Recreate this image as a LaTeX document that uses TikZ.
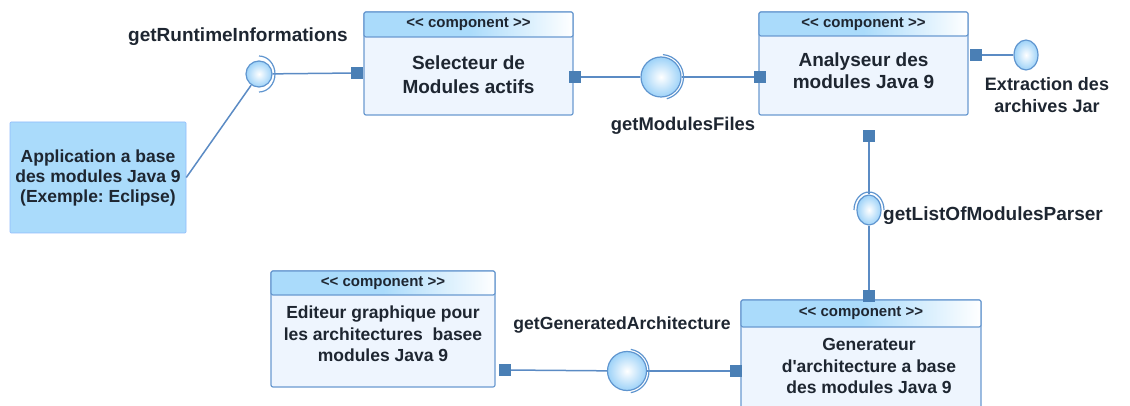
\documentclass[tikz,border=0pt]{standalone}
\usepackage{fontspec}
\setmainfont{Liberation Sans}
\usetikzlibrary{shapes.geometric}
\frenchspacing
\definecolor{hdrc}{HTML}{AADBFB}
\definecolor{bodyc}{HTML}{EEF5FE}
\definecolor{edgec}{HTML}{6A9AD0}
\definecolor{portc}{HTML}{4A7FB5}
\definecolor{wirec}{HTML}{5B8BC4}
\definecolor{ballc}{HTML}{9DD2F8}
\definecolor{balledge}{HTML}{5F95CF}
\definecolor{inkc}{HTML}{1E2631}
\tikzset{
  wire/.style={draw=wirec, line width=1.5pt},
  compbody/.style={draw=edgec, fill=bodyc, line width=1.2pt, rounded corners=2pt, inner sep=0pt},
  comphead/.style={draw=edgec, line width=1.2pt, rounded corners=2pt, inner sep=0pt,
    left color=hdrc, right color=white, middle color=hdrc, anchor=north,
    font=\fontsize{15}{17}\selectfont\bfseries, text=inkc},
  bodytext/.style={align=center, text=inkc, inner sep=0pt},
  port/.style={rectangle, fill=portc, minimum size=12pt, inner sep=0pt},
  ballnode/.style={circle, draw=balledge, line width=1.2pt, inner color=white, outer color=ballc, inner sep=0pt},
  ovalnode/.style={ellipse, draw=balledge, line width=1.2pt, inner color=white, outer color=ballc, inner sep=0pt,
    minimum width=24pt, minimum height=30pt},
  socket/.style={draw=balledge, line width=1.2pt},
  lbl/.style={font=\fontsize{19}{22}\selectfont\bfseries, text=inkc, inner sep=0pt},
}
% the kerns keep the doubled angle brackets from merging into guillemets
\newcommand{\stereo}{<\kern0pt< component >\kern0pt>}
\begin{document}
\begin{tikzpicture}[x=1pt, y=-1pt]
\path[use as bounding box, clip] (0,0) rectangle (1130,406);

% client application
\node[fill=hdrc, draw=hdrc!85!blue, line width=0.6pt, rounded corners=1pt, minimum width=176pt, minimum height=111pt,
  bodytext, font=\fontsize{17.5}{20}\selectfont\bfseries] (app) at (98,177.5)
  {Application a base\\des modules Java 9\\(Exemple: Eclipse)};

% component: selector
\node[compbody, minimum width=209pt, minimum height=103pt] (sel) at (468.5,63.5) {};
\node[comphead, minimum width=209pt, minimum height=25pt] (selh) at (sel.north) {\stereo};
\node[bodytext, font=\fontsize{19}{24}\selectfont\bfseries] (selt) at (468.5,75) {Selecteur de\\Modules actifs};

% component: analyser
\node[compbody, minimum width=209pt, minimum height=103pt] (ana) at (863.5,63.5) {};
\node[comphead, minimum width=209pt, minimum height=24pt] (anah) at (ana.north) {\stereo};
\node[bodytext, font=\fontsize{19}{22}\selectfont\bfseries] (anat) at (863.5,71) {Analyseur des\\modules Java 9};

% component: graphical editor
\node[compbody, minimum width=224pt, minimum height=116pt] (edi) at (383,329) {};
\node[comphead, minimum width=224pt, minimum height=24pt] (edih) at (edi.north) {\stereo};
\node[bodytext, font=\fontsize{17.5}{21.5}\selectfont\bfseries] (edit) at (383,334)
  {Editeur graphique pour\\les architectures\ \ basee\\modules Java 9};

% component: generator (runs past the lower edge)
\node[compbody, minimum width=240pt, minimum height=130pt] (gen) at (861,365) {};
\node[comphead, minimum width=240pt, minimum height=27pt] (genh) at (gen.north) {\stereo};
\node[bodytext, font=\fontsize{17.5}{21.5}\selectfont\bfseries] (gent) at (869,366)
  {Generateur\\d\textquotesingle architecture a base\\des modules Java 9};

% ports
\node[port] (selL) at (357,73) {};
\node[port] (selR) at (575,77) {};
\node[port] (anaL) at (760,77) {};
\node[port] (anaR) at (976,55) {};
\node[port] (anaB) at (869,136) {};
\node[port] (genT) at (869,296) {};
\node[port] (genL) at (736,371) {};
\node[port] (ediR) at (505,370) {};

% provided interfaces
\node[ballnode, minimum size=26pt] (rt) at (259,74) {};
\node[ballnode, minimum size=40pt] (mf) at (661,77) {};
\node[ovalnode] (lp) at (869,210) {};
\node[ballnode, minimum size=39pt] (ga) at (627,371) {};
\node[ovalnode] (jar) at (1026,55) {};

% connectors
\draw[wire] (app.east) -- (rt);
\draw[wire] (rt) -- (selL);
\draw[wire] (selR) -- (mf);
\draw[wire] (mf) -- (anaL);
\draw[wire] (anaR) -- (jar);
\draw[wire] (anaB) -- (lp);
\draw[wire] (lp) -- (genT);
\draw[wire] (ediR) -- (ga);
\draw[wire] (ga) -- (genL);

% required-interface sockets
\draw[socket] ([shift={(90:18pt)}]rt.center) arc[start angle=90, end angle=-90, x radius=16pt, y radius=18pt];
\draw[socket] ([shift={(85:22.5pt)}]mf.center) arc[start angle=85, end angle=-75, radius=22.5pt];
\draw[socket] ([shift={(180:15pt)}]lp.center) arc[start angle=180, end angle=0, x radius=15pt, y radius=18pt];
\draw[socket] ([shift={(80:22pt)}]ga.center) arc[start angle=80, end angle=-80, radius=22pt];

% interface labels
\node[lbl] (rtl) at (238,37) {getRuntimeInformations};
\node[lbl, font=\fontsize{18.4}{22}\selectfont\bfseries] (mfl) at (683,126) {getModulesFiles};
\node[lbl, anchor=west] (lpl) at (883,216) {getListOfModulesParser};
\node[lbl, font=\fontsize{17.6}{22}\selectfont\bfseries] (gal) at (622,325) {getGeneratedArchitecture};
\node[bodytext, font=\fontsize{18}{22}\selectfont\bfseries] (jarl) at (1047,95) {Extraction des\\archives Jar};
\end{tikzpicture}
\end{document}
